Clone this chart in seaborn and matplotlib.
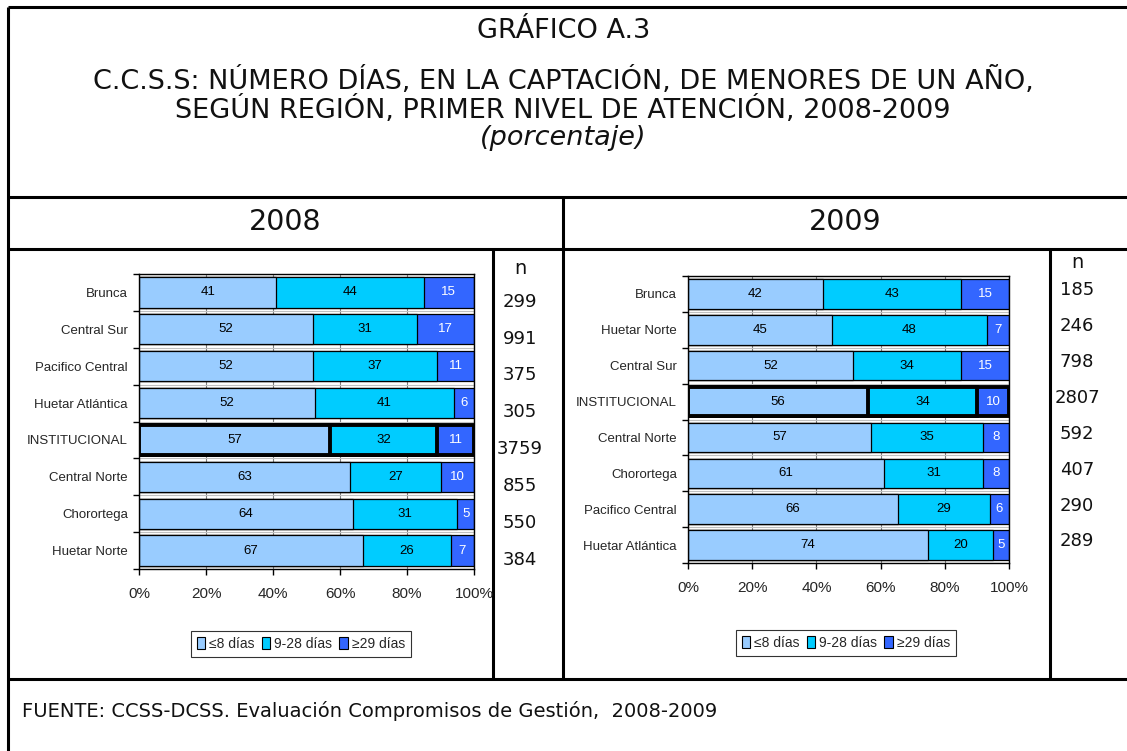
import numpy as np
import matplotlib
matplotlib.use("Agg")
import matplotlib.pyplot as plt
import seaborn as sns
from matplotlib.patches import Patch

sns.set_style("white")
plt.rcParams['font.family'] = ['Liberation Sans Narrow', 'Liberation Sans', 'DejaVu Sans']

# series y colores
series = ['≤8 días', '9-28 días', '≥29 días']
colors = ['#99CCFF', '#00CCFF', '#3366FF']

# datos 2008
regions_2008 = ['Brunca', 'Central Sur', 'Pacifico Central', 'Huetar Atlántica',
                'INSTITUCIONAL', 'Central Norte', 'Chorortega', 'Huetar Norte']
le8_2008 = [41, 52, 52, 52, 57, 63, 64, 67]
d9_28_2008 = [44, 31, 37, 41, 32, 27, 31, 26]
ge29_2008 = [15, 17, 11, 6, 11, 10, 5, 7]
n_2008 = [299, 991, 375, 305, 3759, 855, 550, 384]

# datos 2009
regions_2009 = ['Brunca', 'Huetar Norte', 'Central Sur', 'INSTITUCIONAL',
                'Central Norte', 'Chorortega', 'Pacifico Central', 'Huetar Atlántica']
le8_2009 = [42, 45, 52, 56, 57, 61, 66, 74]
d9_28_2009 = [43, 48, 34, 34, 35, 31, 29, 20]
ge29_2009 = [15, 7, 15, 10, 8, 8, 6, 5]
n_2009 = [185, 246, 798, 2807, 592, 407, 290, 289]

W, H = 1127, 751
fig = plt.figure(figsize=(W / 100, H / 100), dpi=100)

# capa de fondo: marco de la tabla y textos (coordenadas en pixeles)
bg = fig.add_axes([0, 0, 1, 1], zorder=-1)
bg.set_xlim(0, W)
bg.set_ylim(H, 0)
bg.axis('off')
lw = 2.2
for x0, x1, y in [(8, W, 7), (8, W, 197), (8, W, 249), (8, W, 679)]:
    bg.plot([x0, x1], [y, y], color='black', lw=lw, solid_capstyle='butt')
for x, y0, y1 in [(8, 7, H), (563, 197, 679), (493, 249, 679), (1050, 249, 679)]:
    bg.plot([x, x], [y0, y1], color='black', lw=lw, solid_capstyle='butt')

tfont = dict(family='DejaVu Sans', color='#111111', ha='center', va='center')
bg.text(564, 31, 'GRÁFICO A.3', fontsize=19.5, **tfont)
bg.text(563, 81, 'C.C.S.S: NÚMERO DÍAS, EN LA CAPTACIÓN, DE MENORES DE UN AÑO,', fontsize=19.5, **tfont)
bg.text(563, 110, 'SEGÚN REGIÓN, PRIMER NIVEL DE ATENCIÓN, 2008-2009', fontsize=19.5, **tfont)
bg.text(563, 138, '(porcentaje)', fontsize=19.5, style='italic', **tfont)
bg.text(285, 222, '2008', fontsize=20.5, **tfont)
bg.text(845, 222, '2009', fontsize=20.5, **tfont)
bg.text(22, 711, 'FUENTE: CCSS-DCSS. Evaluación Compromisos de Gestión,  2008-2009',
        fontsize=14, family='DejaVu Sans', color='#111111', ha='left', va='center')


def draw_panel(ax, regions, a, b, c, n, n_x, n_dy, head_y, leg_xy):
    vals = np.array([a, b, c], dtype=float)
    share = vals / vals.sum(axis=0) * 100   # barras 100% apiladas
    cum = np.cumsum(share, axis=0)
    for k in [2, 1, 0]:
        sns.barplot(x=cum[k], y=regions, order=regions, color=colors[k], orient='h',
                    width=0.82, saturation=1, edgecolor='black', linewidth=0.9,
                    ax=ax, zorder=2)

    # borde grueso para INSTITUCIONAL
    inst = regions.index('INSTITUCIONAL')
    for p in ax.patches:
        if abs(p.get_y() + p.get_height() / 2 - inst) < 0.01:
            p.set_linewidth(2.8)

    # etiquetas de valores
    for i in range(len(regions)):
        start = 0
        for k in range(3):
            ax.text(start + share[k][i] / 2, i, f"{int(vals[k][i])}", ha='center', va='center',
                    fontsize=9.5, color='white' if k == 2 else 'black', zorder=4)
            start += share[k][i]

    ax.set_xlim(0, 100)
    ax.set_ylim(len(regions) - 0.5, -0.5)
    ticks = list(range(0, 101, 20))
    ax.set_xticks(ticks)
    ax.set_xticklabels([f"{t}%" for t in ticks], fontsize=11)
    ax.set_yticks(range(len(regions)))
    ax.set_yticklabels(regions, fontsize=9.5)
    ax.set_yticks(np.arange(-0.5, len(regions)), minor=True)
    ax.tick_params(axis='y', which='major', length=0, pad=8)
    ax.tick_params(axis='y', which='minor', left=True, length=4, width=1, color='black', direction='out')
    ax.tick_params(axis='x', bottom=True, length=4, width=1, color='black', direction='out', pad=9)
    ax.grid(axis='x', color='#808080', lw=0.8)
    ax.grid(axis='y', which='minor', color='#c0c0c0', lw=0.8)
    ax.set_axisbelow(True)
    for s in ax.spines.values():
        s.set_visible(True)
        s.set_color('black')
        s.set_linewidth(1)
    ax.set_xlabel('')
    ax.set_ylabel('')

    # columna n
    trans = ax.get_yaxis_transform()
    ax.text(n_x, head_y, 'n', transform=trans, ha='center', va='center', fontsize=14,
            family='DejaVu Sans', color='#111111', clip_on=False)
    for i, v in enumerate(n):
        ax.text(n_x, i + n_dy, str(v), transform=trans, ha='center', va='center', fontsize=13,
                family='DejaVu Sans', color='#111111', clip_on=False)

    handles = [Patch(facecolor=colors[k], edgecolor='black', lw=0.8, label=series[k]) for k in range(3)]
    leg = ax.legend(handles=handles, loc='center', bbox_to_anchor=leg_xy, bbox_transform=fig.transFigure,
                    ncol=3, frameon=True, fancybox=False, fontsize=10, handlelength=0.6,
                    handleheight=0.9, handletextpad=0.3, columnspacing=0.5, borderpad=0.45)
    leg.get_frame().set_edgecolor('black')
    leg.get_frame().set_linewidth(0.8)


ax1 = fig.add_axes([139 / W, 1 - 569 / H, 335 / W, 295 / H])
draw_panel(ax1, regions_2008, le8_2008, d9_28_2008, ge29_2008, n_2008,
           n_x=(520 - 139) / 335, n_dy=0.25, head_y=-0.66, leg_xy=(301 / W, 1 - 644 / H))

ax2 = fig.add_axes([688 / W, 1 - 563 / H, 321 / W, 287 / H])
draw_panel(ax2, regions_2009, le8_2009, d9_28_2009, ge29_2009, n_2009,
           n_x=(1077 - 688) / 321, n_dy=-0.1, head_y=-0.89, leg_xy=(846 / W, 1 - 643 / H))

fig.savefig('out.png', dpi=100)
